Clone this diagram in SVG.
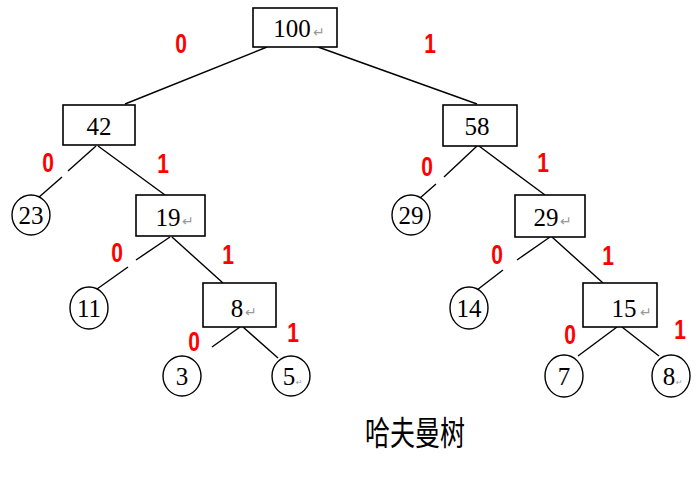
<svg xmlns="http://www.w3.org/2000/svg" width="697" height="488" viewBox="0 0 697 488">
<style>
.box{fill:#fff;stroke:#000;stroke-width:1.6}
.cir{fill:#fff;stroke:#000;stroke-width:1.4}
.edge{stroke:#000;stroke-width:1.4;fill:none}
.t{font-family:"Liberation Serif","Times New Roman",serif;font-size:25px;fill:#000;text-anchor:middle}
.pm{font-family:"DejaVu Sans",sans-serif;font-size:14px;fill:#999}
.lbl{font-family:"Liberation Sans",Arial,sans-serif;font-weight:bold;font-size:21px;fill:#f00;text-anchor:middle}
.cap{font-family:"Noto Sans CJK SC","Noto Sans CJK JP",sans-serif;font-size:25px;fill:#000;text-anchor:middle}
</style>
<rect width="697" height="488" fill="#fff"/>
<g id="connectors">
<line class="edge" x1="267" y1="47" x2="125" y2="104"/>
<line class="edge" x1="318" y1="47" x2="477" y2="104"/>
<line class="edge" x1="96" y1="146" x2="68" y2="171"/>
<line class="edge" x1="62" y1="177" x2="38" y2="198"/>
<line class="edge" x1="98" y1="146" x2="165" y2="195"/>
<line class="edge" x1="477" y1="146" x2="444" y2="177"/>
<line class="edge" x1="436" y1="184" x2="420" y2="198"/>
<line class="edge" x1="479" y1="146" x2="545" y2="195"/>
<line class="edge" x1="170" y1="237" x2="136" y2="260"/>
<line class="edge" x1="128" y1="267" x2="97" y2="289"/>
<line class="edge" x1="172" y1="237" x2="223" y2="283"/>
<line class="edge" x1="240" y1="327" x2="212" y2="347"/>
<line class="edge" x1="243" y1="327" x2="278" y2="358"/>
<line class="edge" x1="550" y1="237" x2="517" y2="260"/>
<line class="edge" x1="503" y1="270" x2="477" y2="290"/>
<line class="edge" x1="552" y1="237" x2="603" y2="283"/>
<line class="edge" x1="617" y1="327" x2="578" y2="356"/>
<line class="edge" x1="622" y1="327" x2="659" y2="356"/>
</g>
<g id="n100"><rect class="box" x="253" y="8" width="84" height="39"/><text class="t" x="292" y="37">100</text><text class="pm" x="313" y="37">↵</text></g>
<g id="n42"><rect class="box" x="63" y="105" width="72" height="40"/><text class="t" x="99" y="135">42</text></g>
<g id="n58"><rect class="box" x="443" y="105" width="74" height="41"/><text class="t" x="477" y="135">58</text></g>
<g id="n23"><ellipse class="cir" cx="31" cy="215" rx="19" ry="20"/><text class="t" x="31" y="224">23</text></g>
<g id="n19"><rect class="box" x="136" y="195" width="69" height="41"/><text class="t" x="168" y="226">19</text><text class="pm" x="182" y="226">↵</text></g>
<g id="n29a"><ellipse class="cir" cx="411" cy="215" rx="19" ry="20"/><text class="t" x="411" y="224">29</text></g>
<g id="n29b"><rect class="box" x="515" y="195" width="70" height="42"/><text class="t" x="546" y="226">29</text><text class="pm" x="560" y="226">↵</text></g>
<g id="n11"><ellipse class="cir" cx="89" cy="308" rx="19" ry="21"/><text class="t" x="89" y="317">11</text></g>
<g id="n8box"><rect class="box" x="203" y="283" width="73" height="44"/><text class="t" x="237" y="317">8</text><text class="pm" x="245" y="317">↵</text></g>
<g id="n14"><ellipse class="cir" cx="469" cy="308" rx="19" ry="21"/><text class="t" x="469" y="317">14</text></g>
<g id="n15"><rect class="box" x="583" y="283" width="74" height="44"/><text class="t" x="624" y="317">15</text><text class="pm" x="640" y="317">↵</text></g>
<g id="n3"><ellipse class="cir" cx="182" cy="376" rx="19" ry="20"/><text class="t" x="182" y="385">3</text></g>
<g id="n5"><ellipse class="cir" cx="291" cy="376" rx="19" ry="20"/><text class="t" x="289" y="385">5</text><text class="pm" x="296" y="385" style="font-size:8px">↵</text></g>
<g id="n7"><ellipse class="cir" cx="564" cy="376" rx="19" ry="21"/><text class="t" x="564" y="385">7</text></g>
<g id="n8"><ellipse class="cir" cx="671" cy="376" rx="19" ry="21"/><text class="t" x="669" y="385">8</text><text class="pm" x="676" y="385" style="font-size:8px">↵</text></g>
<g id="labels">
<text class="lbl" transform="translate(181,53) scale(1,1.3)">0</text>
<text class="lbl" transform="translate(430,53) scale(1,1.3)">1</text>
<text class="lbl" transform="translate(48,172) scale(1,1.3)">0</text>
<text class="lbl" transform="translate(163,173) scale(1,1.3)">1</text>
<text class="lbl" transform="translate(427,176) scale(1,1.3)">0</text>
<text class="lbl" transform="translate(543,172) scale(1,1.3)">1</text>
<text class="lbl" transform="translate(117,262) scale(1,1.3)">0</text>
<text class="lbl" transform="translate(228,264) scale(1,1.3)">1</text>
<text class="lbl" transform="translate(497,264) scale(1,1.3)">0</text>
<text class="lbl" transform="translate(608,265) scale(1,1.3)">1</text>
<text class="lbl" transform="translate(194,351) scale(1,1.3)">0</text>
<text class="lbl" transform="translate(293,342) scale(1,1.3)">1</text>
<text class="lbl" transform="translate(570,344) scale(1,1.3)">0</text>
<text class="lbl" transform="translate(680,339) scale(1,1.3)">1</text>
</g>
<text class="cap" transform="translate(415,445) scale(1,1.3)">哈夫曼树</text>
</svg>
